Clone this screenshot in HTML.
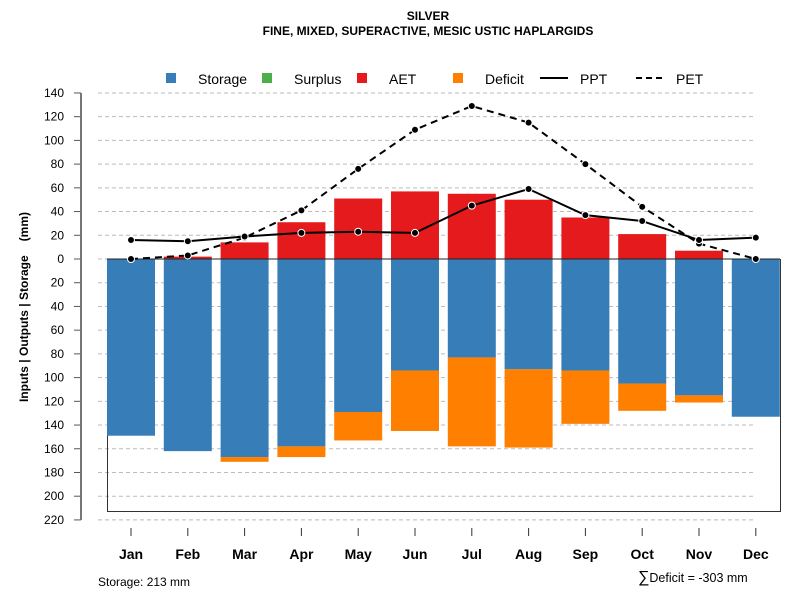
<!DOCTYPE html>
<html><head><meta charset="utf-8"><style>body{margin:0;background:#fff}svg{display:block;font-family:"Liberation Sans",sans-serif}</style></head>
<body>
<svg id="c" width="800" height="600" xmlns="http://www.w3.org/2000/svg">
<text x="428" y="20" text-anchor="middle" font-size="12" font-weight="bold">SILVER</text>
<text x="428" y="35" text-anchor="middle" font-size="12" font-weight="bold">FINE, MIXED, SUPERACTIVE, MESIC USTIC HAPLARGIDS</text>
<g>
<rect x="166" y="73" width="10" height="10" fill="#377eb8"/><text x="198" y="84" font-size="14">Storage</text>
<rect x="262" y="73" width="10" height="10" fill="#4daf4a"/><text x="294" y="84" font-size="14">Surplus</text>
<rect x="357" y="73" width="10" height="10" fill="#e41a1c"/><text x="389" y="84" font-size="14">AET</text>
<rect x="453" y="73" width="10" height="10" fill="#ff7f00"/><text x="485" y="84" font-size="14">Deficit</text>
<line x1="540" y1="78" x2="568" y2="78" stroke="#000" stroke-width="2"/><text x="580" y="84" font-size="14">PPT</text>
<line x1="636" y1="78" x2="664" y2="78" stroke="#000" stroke-width="2" stroke-dasharray="6,4"/><text x="676" y="84" font-size="14">PET</text>
</g>
<g id="g"></g>
<text transform="translate(28,307) rotate(-90)" text-anchor="middle" font-size="12" font-weight="bold">Inputs | Outputs | Storage<tspan dx="14">(mm)</tspan></text>
<text x="98" y="586" font-size="12">Storage: 213 mm</text>
<text x="638" y="582" font-size="12.5"><tspan font-size="16">∑</tspan>Deficit = -303 mm</text>
</svg>
<script>
const months=["Jan","Feb","Mar","Apr","May","Jun","Jul","Aug","Sep","Oct","Nov","Dec"];
const storage=[149,162,167,158,129,94,83,93,94,105,115,133];
const deficit=[0,0,4,9,24,51,75,66,45,23,6,0];
const surplus=[0,0,0,0,0,0,0,0,0,0,0,0];
const aet=[0,2,14,31,51,57,55,50,35,21,7,0];
const ppt=[16,15,19,22,23,22,45,59,37,32,16,18];
const pet=[0,3,18,41,76,109,129,115,80,44,13,0];
const yTicks=[140,120,100,80,60,40,20,0,20,40,60,80,100,120,140,160,180,200,220];
const yTickVals=[140,120,100,80,60,40,20,0,-20,-40,-60,-80,-100,-120,-140,-160,-180,-200,-220];
const NS="http://www.w3.org/2000/svg",g=document.getElementById('g');
const y=v=>259-v*1.186;
const x=i=>131+i*56.8;
function mk(t,a){const e=document.createElementNS(NS,t);for(const k in a)e.setAttribute(k,a[k]);g.appendChild(e);return e;}
yTickVals.forEach((v,i)=>{
 const gl=mk('line',{x1:98,x2:756,y1:y(v),y2:y(v),stroke:'#bbb','stroke-dasharray':'4,3'});
 
 
 const tk=mk('line',{x1:74,x2:81,y1:y(v),y2:y(v),stroke:'#555'});
 
 
 const t=mk('text',{x:64,y:y(v)+4,'text-anchor':'end','font-size':12});
 t.textContent=yTicks[i];
 
 
});
const ax=mk('line',{x1:81,x2:81,y1:y(140),y2:y(-220),stroke:'#777','stroke-width':2});


const bx=mk('path',{d:`M107.5 ${y(0)} V511.5 H780.5 V${y(0)}`,fill:'none',stroke:'#333'});


months.forEach((m,i)=>{
 const cx=x(i),w=48;
 const s=mk('rect',{x:cx-w/2,y:y(0),width:w,height:storage[i]*1.186,fill:'#377eb8'});
 
 
 if(deficit[i]>0){const d=mk('rect',{x:cx-w/2,y:y(-storage[i]),width:w,height:deficit[i]*1.186,fill:'#ff7f00'});
 
 }
 if(aet[i]>0){const a=mk('rect',{x:cx-w/2,y:y(aet[i]),width:w,height:aet[i]*1.186,fill:'#e41a1c'});
 
 }
 const tk=mk('line',{x1:cx,x2:cx,y1:528,y2:536,stroke:'#333'});
 
 
 const t=mk('text',{x:cx,y:559,'text-anchor':'middle','font-size':14,'font-weight':'bold'});
 t.textContent=m;
 
 
});
const zl=mk('line',{x1:107,x2:780,y1:y(0),y2:y(0),stroke:'#222'});


function series(vals,name,dash){
 const p=mk('polyline',{points:vals.map((v,i)=>x(i)+','+y(v)).join(' '),fill:'none',stroke:'#000','stroke-width':2,'stroke-dasharray':dash});
 
 
 vals.forEach((v,i)=>{const c=mk('circle',{cx:x(i),cy:y(v),r:3.5,fill:'#000',stroke:'#fff','stroke-width':1});
 
 });
}
series(pet,'pet','7,5');
series(ppt,'ppt','none');
</script>
</body></html>
